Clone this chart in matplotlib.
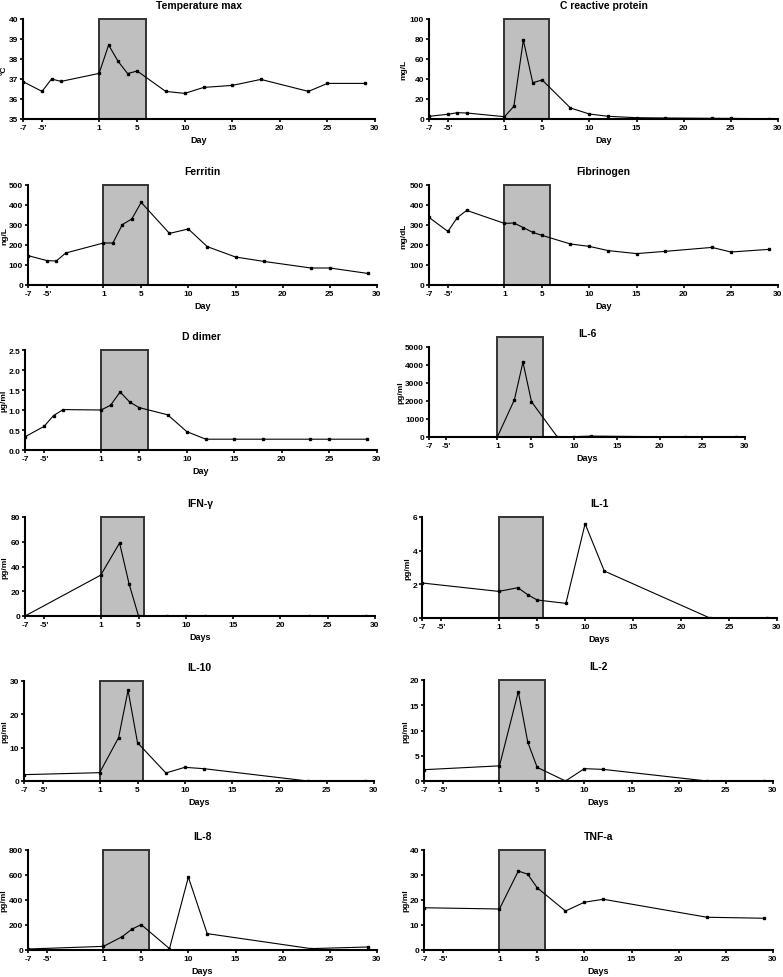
import matplotlib
matplotlib.use('Agg')
import matplotlib.pyplot as plt
import matplotlib.transforms as mtransforms
from matplotlib.patches import Rectangle

plt.rcParams['font.family'] = ['Liberation Sans', 'DejaVu Sans']
plt.rcParams['font.weight'] = 'bold'

# days of sampling
days_lab = [-7, -5, -4, -3, 1, 2, 3, 4, 5, 8, 10, 12, 15, 18, 23, 25, 29]
days_cyto = [-7, 1, 3, 4, 5, 8, 10, 12, 23, 29]
days_il6 = [1, 3, 4, 5, 8, 10, 12, 23, 29]

temperature = [36.87, 36.38, 37.0, 36.88, 37.28, 38.7, 37.88, 37.27, 37.4,
               36.38, 36.28, 36.58, 36.68, 36.98, 36.38, 36.78, 36.78]
crp = [2.7, 4.7, 6.3, 6.0, 2.3, 12.7, 79, 36.3, 39, 11, 5, 2.7, 1.3, 1.0, 0.7, 0.6, 0.3]
ferritin = [147, 122, 120, 160, 210, 210, 302, 330, 413, 258, 280, 192, 140, 118, 85, 85, 58]
fibrinogen = [338, 268, 337, 373, 308, 310, 287, 263, 248, 205, 193, 172, 157, 168, 188, 165, 178]
d_dimer = [0.33, 0.59, 0.86, 1.01, 1.0, 1.12, 1.45, 1.2, 1.06, 0.88, 0.46, 0.27, 0.27,
           0.27, 0.27, 0.27, 0.27]
il6 = [0, 2070, 4160, 1960, 20, 20, 50, 5, 5]
ifn_g = [0, 33, 59, 26, 0, 0, 0, 0, 0, 0]
il1 = [2.08, 1.58, 1.8, 1.39, 1.07, 0.87, 5.6, 2.79, 0, 0]
il10 = [1.9, 2.5, 13, 27.2, 11.5, 2.4, 4.1, 3.7, 0, 0]
il2 = [2.24, 3.0, 17.7, 7.7, 2.7, 0, 2.44, 2.3, 0, 0]
il8 = [8, 29, 107, 166, 203, 11, 583, 131, 11, 24]
tnf_a = [16.9, 16.4, 31.6, 30.3, 24.9, 15.6, 19.1, 20.3, 13.1, 12.7]

x_ticks = [-7, -5, 1, 5, 10, 15, 20, 25, 30]
x_ticklabels = ['-7', "-5'", '1', '5', '10', '15', '20', '25', '30']

W, H = 783, 978
fig = plt.figure(figsize=(W / 100, H / 100), dpi=100)

# title, x, y, unit, ylim, yticks, box end, xlabel, pixel box (x0, x1, ytop, ybot, ylabel x)
panels = [
    ('Temperature max', days_lab, temperature, '°C', (35, 40), [35, 36, 37, 38, 39, 40], 5.9, 'Day', (23, 375, 20, 120, 4)),
    ('C reactive protein', days_lab, crp, 'mg/L', (0, 100), [0, 20, 40, 60, 80, 100], 5.75, 'Day', (429, 778, 20, 120, 404)),
    ('Ferritin', days_lab, ferritin, 'ng/L', (0, 500), [0, 100, 200, 300, 400, 500], 5.7, 'Day', (28, 377, 186, 286, 5)),
    ('Fibrinogen', days_lab, fibrinogen, 'mg/dL', (0, 500), [0, 100, 200, 300, 400, 500], 5.88, 'Day', (429, 778, 186, 286, 404)),
    ('D dimer', days_lab, d_dimer, 'µg/ml', (0, 2.5), [0, 0.5, 1.0, 1.5, 2.0, 2.5], 5.9, 'Day', (25, 377, 351, 451, 4)),
    ('IL-6', days_il6, il6, 'pg/ml', (0, 5000), [0, 1000, 2000, 3000, 4000, 5000], 6.3, 'Days', (429, 745, 348, 438, 401)),
    ('IFN-γ', days_cyto, ifn_g, 'pg/ml', (0, 80), [0, 20, 40, 60, 80], 5.6, 'Days', (25, 375, 518, 617, 5)),
    ('IL-1', days_cyto, il1, 'pg/ml', (0, 6), [0, 2, 4, 6], 5.6, 'Days', (422, 777, 518, 619, 408)),
    ('IL-10', days_cyto, il10, 'pg/ml', (0, 30), [0, 10, 20, 30], 5.6, 'Days', (24, 374, 682, 782, 5)),
    ('IL-2', days_cyto, il2, 'pg/ml', (0, 20), [0, 5, 10, 15, 20], 5.85, 'Days', (424, 773, 681, 782, 406)),
    ('IL-8', days_cyto, il8, 'pg/ml', (0, 800), [0, 200, 400, 600, 800], 5.78, 'Days', (28, 377, 851, 951, 4)),
    ('TNF-a', days_cyto, tnf_a, 'pg/ml', (0, 40), [0, 10, 20, 30, 40], 5.85, 'Days', (424, 773, 851, 951, 406)),
]
box_top_il6 = 5550

for title, xs, ys, unit, ylim, yticks, box_end, xlabel, (x0, x1, yt, yb, lx) in panels:
    ax = fig.add_axes([x0 / W, (H - yb) / H, (x1 - x0) / W, (yb - yt) / H])
    top = box_top_il6 if title == 'IL-6' else ylim[1]
    ax.add_patch(Rectangle((1, ylim[0]), box_end - 1, top - ylim[0], facecolor='#bfbfbf',
                           edgecolor='#333333', linewidth=1.4, zorder=1, clip_on=False))
    ax.plot(xs, ys, color='black', linewidth=0.8, marker='s', markersize=1.8, zorder=2)
    ax.set_xlim(-7, 30)
    ax.set_ylim(*ylim)
    ax.set_xticks(x_ticks)
    ax.set_xticklabels(x_ticklabels)
    ax.set_yticks(yticks)
    if title == 'D dimer':
        ax.set_yticklabels(['%.1f' % v for v in yticks])
    ax.set_title(title, fontsize=7.5, fontweight='bold', pad=8)
    ax.set_ylabel(unit, fontsize=6, fontweight='bold', va='center')
    trans = mtransforms.blended_transform_factory(fig.transFigure, ax.transAxes)
    ax.yaxis.set_label_coords(lx / W, 0.5, transform=trans)
    ax.set_xlabel(xlabel, fontsize=6.5, fontweight='bold', labelpad=3)
    for s in ['top', 'right']:
        ax.spines[s].set_visible(False)
    for s in ['left', 'bottom']:
        ax.spines[s].set_linewidth(1.5)
        ax.spines[s].set_zorder(3)
    ax.tick_params(axis='both', labelsize=6, width=1.2, length=2.5, pad=1)

fig.savefig('out.png', dpi=100)
